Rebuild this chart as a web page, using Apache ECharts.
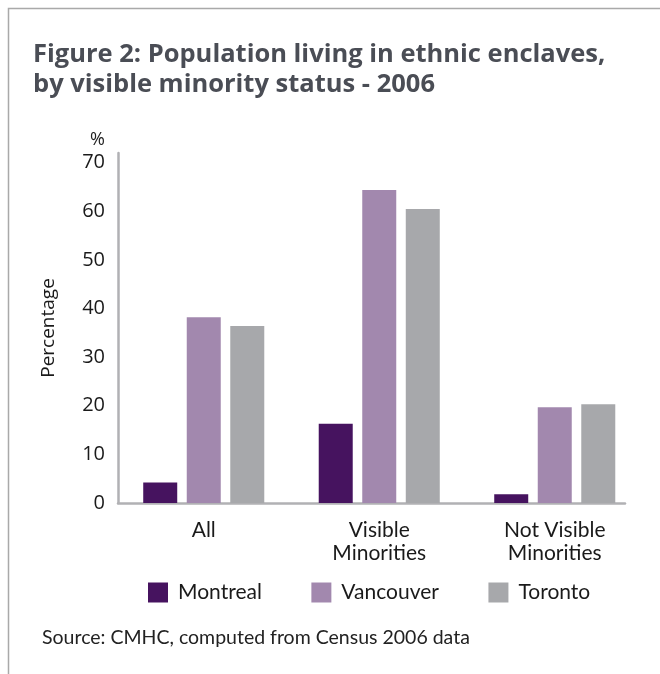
<!DOCTYPE html>
<html><head><meta charset="utf-8">
<script src="https://cdn.jsdelivr.net/npm/echarts@6/dist/echarts.min.js"></script>
<style>html,body{margin:0;padding:0;background:#fff}#c{width:660px;height:674px}</style>
</head><body><div id="c"></div>
<script>
const categories = ['All', 'Visible\nMinorities', 'Not Visible\nMinorities'];
const montreal = [4.2, 16.3, 1.8];
const vancouver = [38.2, 64.4, 19.7];
const toronto = [36.4, 60.5, 20.3];
const seriesNames = ['Montreal', 'Vancouver', 'Toronto'];
const colors = ['#46135F', '#A288AE', '#A7A8AB'];

const chart = echarts.init(document.getElementById('c'));
const lato = 'Lato, "Open Sans", sans-serif';
const axisCol = '#b1b1b4';
chart.setOption({
  animation: false,
  backgroundColor: '#fff',
  graphic: [
    {type: 'polyline', shape: {points: [[8.5, 674], [8.5, 8.5], [660, 8.5]]}, style: {stroke: '#a9a9a9', lineWidth: 1.5, fill: null}},
    {type: 'text', left: 33, top: 40, style: {text: 'Figure 2: Population living in ethnic enclaves,\nby visible minority status - 2006', font: 'bold 25.5px "Open Sans", sans-serif', fill: '#4a4d55', lineHeight: 29.5}},
    {type: 'text', left: 90, top: 131, style: {text: '%', font: '18px "Open Sans", sans-serif', fill: '#222'}},
    {type: 'text', left: 42, top: 628, style: {text: 'Source: CMHC, computed from Census 2006 data', font: '19.5px ' + lato, fill: '#222'}}
  ],
  legend: {
    data: seriesNames, left: 148, top: 582, padding: 0, itemWidth: 20, itemHeight: 20, itemGap: 49.5,
    icon: 'rect', textStyle: {fontFamily: lato, fontSize: 21, color: '#1a1a1a', padding: [0, 0, 0, 5]}
  },
  grid: [
    {left: 116, width: 526.5, top: 153, height: 350},
    {left: 118, width: 507, top: 153, height: 350}
  ],
  xAxis: [
    {type: 'category', gridIndex: 0, data: categories, axisLine: {show: false}, axisTick: {show: false},
     axisLabel: {margin: 16, fontFamily: lato, fontSize: 21, lineHeight: 22.5, color: '#1a1a1a'}},
    {type: 'value', gridIndex: 1, min: 0, max: 1, axisLine: {show: true, lineStyle: {color: axisCol, width: 2.5}},
     axisTick: {show: false}, axisLabel: {show: false}, splitLine: {show: false}}
  ],
  yAxis: [
    {type: 'value', gridIndex: 0, min: 0, max: 72, interval: 10, show: false},
    {type: 'value', gridIndex: 1, min: 0, max: 72, interval: 10,
     axisLine: {show: true, lineStyle: {color: axisCol, width: 2.5}}, axisTick: {show: false}, splitLine: {show: false},
     axisLabel: {showMaxLabel: false, margin: 13, fontFamily: '"Open Sans", sans-serif', fontSize: 20, color: '#1a1a1a'},
     name: 'Percentage', nameLocation: 'middle', nameGap: 60,
     nameTextStyle: {fontFamily: '"Open Sans", sans-serif', fontSize: 19, color: '#1a1a1a'}}
  ],
  series: [montreal, vancouver, toronto].map((d, i) => ({
    name: seriesNames[i], type: 'bar', xAxisIndex: 0, yAxisIndex: 0, data: d,
    barWidth: 34, barGap: '28%', itemStyle: {color: colors[i]}
  }))
});
</script></body></html>
